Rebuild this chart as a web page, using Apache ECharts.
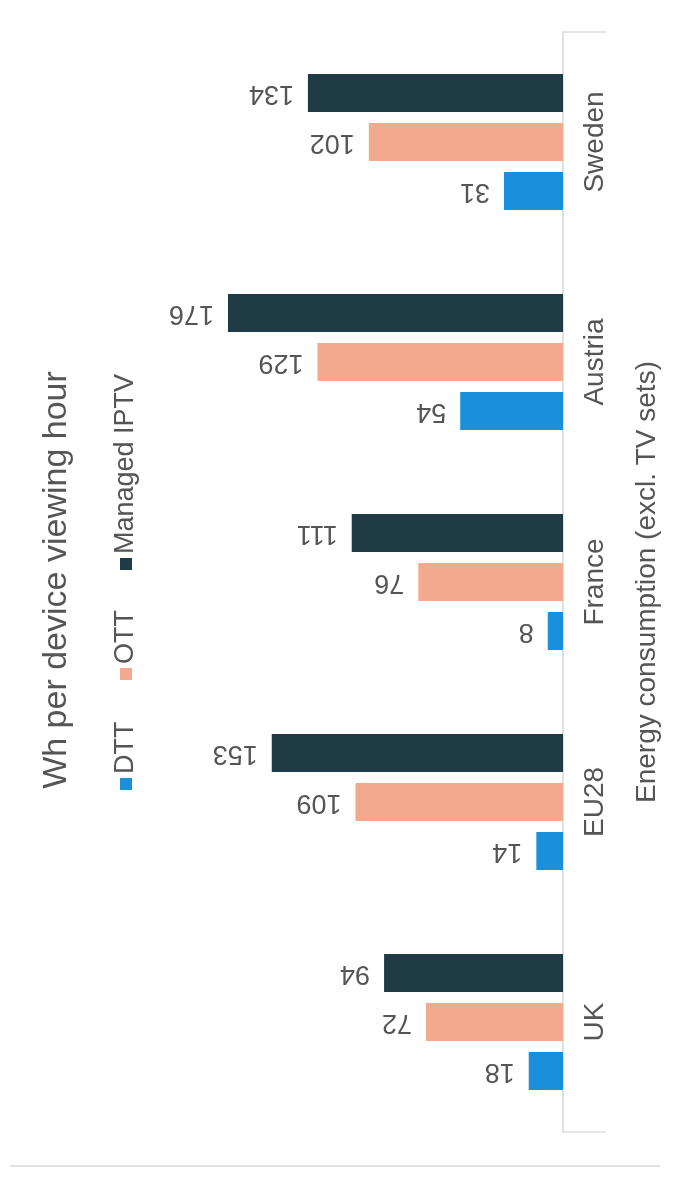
<!DOCTYPE html>
<html>
<head>
<meta charset="utf-8">
<script src="https://cdn.jsdelivr.net/npm/echarts@6/dist/echarts.min.js"></script>
<style>
  html, body { margin: 0; padding: 0; background: #ffffff; }
  #chart { width: 676px; height: 1178px; }
</style>
</head>
<body>
<div id="chart"></div>
<script>
// data
let countries = ['UK', 'EU28', 'France', 'Austria', 'Sweden'];
let dtt = [18, 14, 8, 54, 31];
let ott = [72, 109, 76, 129, 102];
let managedIptv = [94, 153, 111, 176, 134];
let seriesNames = ['DTT', 'OTT', 'Managed IPTV'];
let colors = ['#1a8fdc', '#f2aa8e', '#1f3c44'];

let font = 'Liberation Sans, Arial, sans-serif';

// value label: chart is turned on its side, so labels read upside down
let valueLabel = {
    show: true,
    position: 'left',
    distance: 14,
    rotate: 180,
    align: 'left',
    verticalAlign: 'middle',
    fontSize: 27,
    fontFamily: font,
    color: '#555555'
};

function makeSeries(name, data, color) {
    return {
        name: name,
        type: 'bar',
        data: data,
        barWidth: 38,
        barGap: '29%',
        itemStyle: { color: color },
        label: valueLabel
    };
}

// legend drawn as rotated graphic items
let legendOffsets = [0, 110, 220];
let legendItems = [];
seriesNames.forEach(function (n, i) {
    legendItems.push({
        type: 'rect',
        shape: { x: legendOffsets[i], y: -6, width: 12, height: 12 },
        style: { fill: colors[i] }
    });
    legendItems.push({
        type: 'text',
        x: legendOffsets[i] + 16,
        y: 0,
        style: {
            text: n,
            fill: '#555555',
            font: '27px ' + font,
            align: 'left', textAlign: 'left',
            verticalAlign: 'middle', textVerticalAlign: 'middle'
        }
    });
});

let option = {
    backgroundColor: '#ffffff',
    animation: false,
    grid: { left: 30, right: 113, top: 32, bottom: 46 },
    xAxis: {
        type: 'value',
        inverse: true,
        min: 0,
        max: 280,
        show: false
    },
    yAxis: {
        type: 'category',
        position: 'right',
        data: countries,
        axisLine: { lineStyle: { color: '#d4d4d4', width: 1.5 } },
        axisTick: { show: false },
        axisLabel: {
            rotate: 90,
            margin: 18,
            fontSize: 28,
            fontFamily: font,
            color: '#555555'
        },
        name: 'Energy consumption (excl. TV sets)',
        nameLocation: 'middle',
        nameRotate: 90,
        nameGap: 70,
        nameTextStyle: { fontSize: 28, fontFamily: font, color: '#555555' }
    },
    // first series sits at the top of each group, so Managed IPTV goes first
    series: [
        makeSeries(seriesNames[2], managedIptv, colors[2]),
        makeSeries(seriesNames[1], ott, colors[1]),
        makeSeries(seriesNames[0], dtt, colors[0])
    ],
    graphic: [
        {
            type: 'text',
            x: 57,
            y: 580,
            rotation: Math.PI / 2,
            style: {
                text: 'Wh per device viewing hour',
                fill: '#555555',
                font: '34px ' + font,
                align: 'center', textAlign: 'center',
                verticalAlign: 'middle', textVerticalAlign: 'middle'
            }
        },
        {
            type: 'group',
            x: 126,
            y: 790,
            rotation: Math.PI / 2,
            children: legendItems
        },
        // thin frame bits of the original
        { type: 'line', shape: { x1: 563, y1: 32, x2: 606, y2: 32 }, style: { stroke: '#dddddd', lineWidth: 1.5 } },
        { type: 'line', shape: { x1: 563, y1: 1132, x2: 606, y2: 1132 }, style: { stroke: '#dddddd', lineWidth: 1.5 } },
        { type: 'line', shape: { x1: 10, y1: 1166, x2: 660, y2: 1166 }, style: { stroke: '#e2e2e2', lineWidth: 2 } }
    ]
};

let myChart = echarts.init(document.getElementById('chart'));
myChart.setOption(option);

window.addEventListener('resize', function () {
    myChart.resize();
});
</script>
</body>
</html>
